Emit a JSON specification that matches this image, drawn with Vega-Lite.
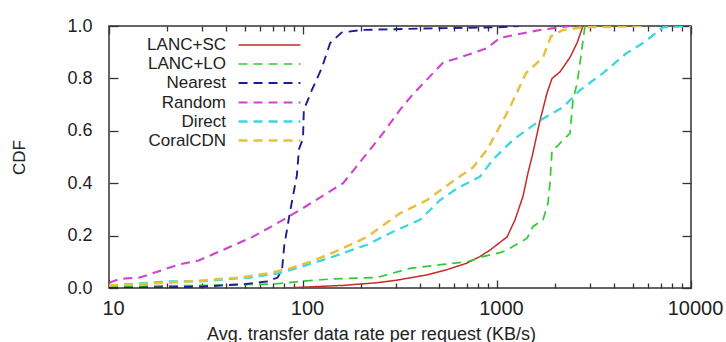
{
  "$schema": "https://vega.github.io/schema/vega-lite/v6.json",
  "width": 582,
  "height": 262,
  "autosize": "none",
  "padding": {"left": 109, "top": 26, "right": 35, "bottom": 54},
  "background": "white",
  "data": {"values": [
    {"s": "LANC+SC", "x": 80, "y": 0.0},
    {"s": "LANC+SC", "x": 161, "y": 0.01},
    {"s": "LANC+SC", "x": 240, "y": 0.02},
    {"s": "LANC+SC", "x": 305, "y": 0.03},
    {"s": "LANC+SC", "x": 435, "y": 0.05},
    {"s": "LANC+SC", "x": 552, "y": 0.07},
    {"s": "LANC+SC", "x": 700, "y": 0.095},
    {"s": "LANC+SC", "x": 817, "y": 0.12},
    {"s": "LANC+SC", "x": 921, "y": 0.145},
    {"s": "LANC+SC", "x": 1127, "y": 0.195},
    {"s": "LANC+SC", "x": 1238, "y": 0.26},
    {"s": "LANC+SC", "x": 1362, "y": 0.35},
    {"s": "LANC+SC", "x": 1445, "y": 0.44},
    {"s": "LANC+SC", "x": 1515, "y": 0.5},
    {"s": "LANC+SC", "x": 1667, "y": 0.64},
    {"s": "LANC+SC", "x": 1812, "y": 0.745},
    {"s": "LANC+SC", "x": 1922, "y": 0.8},
    {"s": "LANC+SC", "x": 2113, "y": 0.825},
    {"s": "LANC+SC", "x": 2378, "y": 0.88},
    {"s": "LANC+SC", "x": 2585, "y": 0.935},
    {"s": "LANC+SC", "x": 2775, "y": 1.0},

    {"s": "LANC+LO", "x": 10, "y": 0.005},
    {"s": "LANC+LO", "x": 30, "y": 0.01},
    {"s": "LANC+LO", "x": 70, "y": 0.015},
    {"s": "LANC+LO", "x": 97, "y": 0.025},
    {"s": "LANC+LO", "x": 143, "y": 0.035},
    {"s": "LANC+LO", "x": 240, "y": 0.04},
    {"s": "LANC+LO", "x": 356, "y": 0.075},
    {"s": "LANC+LO", "x": 527, "y": 0.09},
    {"s": "LANC+LO", "x": 700, "y": 0.1},
    {"s": "LANC+LO", "x": 847, "y": 0.12},
    {"s": "LANC+LO", "x": 1036, "y": 0.135},
    {"s": "LANC+LO", "x": 1127, "y": 0.145},
    {"s": "LANC+LO", "x": 1429, "y": 0.19},
    {"s": "LANC+LO", "x": 1535, "y": 0.235},
    {"s": "LANC+LO", "x": 1726, "y": 0.26},
    {"s": "LANC+LO", "x": 1833, "y": 0.325},
    {"s": "LANC+LO", "x": 1875, "y": 0.4},
    {"s": "LANC+LO", "x": 1922, "y": 0.527},
    {"s": "LANC+LO", "x": 2037, "y": 0.54},
    {"s": "LANC+LO", "x": 2188, "y": 0.565},
    {"s": "LANC+LO", "x": 2378, "y": 0.59},
    {"s": "LANC+LO", "x": 2466, "y": 0.72},
    {"s": "LANC+LO", "x": 2585, "y": 0.78},
    {"s": "LANC+LO", "x": 2679, "y": 0.86},
    {"s": "LANC+LO", "x": 2775, "y": 0.945},
    {"s": "LANC+LO", "x": 2841, "y": 1.0},

    {"s": "Nearest", "x": 10, "y": 0.0},
    {"s": "Nearest", "x": 30, "y": 0.005},
    {"s": "Nearest", "x": 50, "y": 0.015},
    {"s": "Nearest", "x": 65, "y": 0.025},
    {"s": "Nearest", "x": 74, "y": 0.04},
    {"s": "Nearest", "x": 78, "y": 0.07},
    {"s": "Nearest", "x": 80, "y": 0.16},
    {"s": "Nearest", "x": 85.7, "y": 0.29},
    {"s": "Nearest", "x": 93, "y": 0.43},
    {"s": "Nearest", "x": 95.3, "y": 0.53},
    {"s": "Nearest", "x": 100, "y": 0.57},
    {"s": "Nearest", "x": 101, "y": 0.68},
    {"s": "Nearest", "x": 111, "y": 0.755},
    {"s": "Nearest", "x": 125, "y": 0.84},
    {"s": "Nearest", "x": 138, "y": 0.935},
    {"s": "Nearest", "x": 158, "y": 0.975},
    {"s": "Nearest", "x": 200, "y": 0.985},
    {"s": "Nearest", "x": 400, "y": 0.99},
    {"s": "Nearest", "x": 1000, "y": 0.995},
    {"s": "Nearest", "x": 1300, "y": 1.0},

    {"s": "Random", "x": 10, "y": 0.02},
    {"s": "Random", "x": 11.4, "y": 0.035},
    {"s": "Random", "x": 14.4, "y": 0.04},
    {"s": "Random", "x": 23, "y": 0.09},
    {"s": "Random", "x": 29, "y": 0.105},
    {"s": "Random", "x": 40, "y": 0.15},
    {"s": "Random", "x": 55, "y": 0.195},
    {"s": "Random", "x": 79, "y": 0.26},
    {"s": "Random", "x": 100, "y": 0.305},
    {"s": "Random", "x": 161, "y": 0.4},
    {"s": "Random", "x": 221, "y": 0.527},
    {"s": "Random", "x": 258, "y": 0.59},
    {"s": "Random", "x": 316, "y": 0.68},
    {"s": "Random", "x": 369, "y": 0.74},
    {"s": "Random", "x": 468, "y": 0.82},
    {"s": "Random", "x": 527, "y": 0.86},
    {"s": "Random", "x": 644, "y": 0.88},
    {"s": "Random", "x": 887, "y": 0.915},
    {"s": "Random", "x": 1036, "y": 0.955},
    {"s": "Random", "x": 1667, "y": 0.985},
    {"s": "Random", "x": 2400, "y": 1.0},

    {"s": "Direct", "x": 10, "y": 0.01},
    {"s": "Direct", "x": 20.6, "y": 0.025},
    {"s": "Direct", "x": 29, "y": 0.025},
    {"s": "Direct", "x": 53, "y": 0.04},
    {"s": "Direct", "x": 73.5, "y": 0.055},
    {"s": "Direct", "x": 97, "y": 0.08},
    {"s": "Direct", "x": 143, "y": 0.12},
    {"s": "Direct", "x": 214, "y": 0.165},
    {"s": "Direct", "x": 291, "y": 0.215},
    {"s": "Direct", "x": 401, "y": 0.26},
    {"s": "Direct", "x": 508, "y": 0.335},
    {"s": "Direct", "x": 622, "y": 0.38},
    {"s": "Direct", "x": 817, "y": 0.425},
    {"s": "Direct", "x": 953, "y": 0.49},
    {"s": "Direct", "x": 1208, "y": 0.565},
    {"s": "Direct", "x": 1667, "y": 0.64},
    {"s": "Direct", "x": 2188, "y": 0.69},
    {"s": "Direct", "x": 2679, "y": 0.755},
    {"s": "Direct", "x": 3518, "y": 0.82},
    {"s": "Direct", "x": 4624, "y": 0.895},
    {"s": "Direct", "x": 5659, "y": 0.935},
    {"s": "Direct", "x": 7178, "y": 0.995},
    {"s": "Direct", "x": 10000, "y": 1.0},

    {"s": "CoralCDN", "x": 10, "y": 0.01},
    {"s": "CoralCDN", "x": 20, "y": 0.02},
    {"s": "CoralCDN", "x": 32, "y": 0.03},
    {"s": "CoralCDN", "x": 47, "y": 0.04},
    {"s": "CoralCDN", "x": 65, "y": 0.055},
    {"s": "CoralCDN", "x": 86, "y": 0.075},
    {"s": "CoralCDN", "x": 109, "y": 0.1},
    {"s": "CoralCDN", "x": 143, "y": 0.135},
    {"s": "CoralCDN", "x": 214, "y": 0.195},
    {"s": "CoralCDN", "x": 316, "y": 0.285},
    {"s": "CoralCDN", "x": 435, "y": 0.335},
    {"s": "CoralCDN", "x": 573, "y": 0.4},
    {"s": "CoralCDN", "x": 751, "y": 0.46},
    {"s": "CoralCDN", "x": 887, "y": 0.527},
    {"s": "CoralCDN", "x": 988, "y": 0.59},
    {"s": "CoralCDN", "x": 1167, "y": 0.69},
    {"s": "CoralCDN", "x": 1410, "y": 0.82},
    {"s": "CoralCDN", "x": 1726, "y": 0.88},
    {"s": "CoralCDN", "x": 1896, "y": 0.96},
    {"s": "CoralCDN", "x": 2188, "y": 0.985},
    {"s": "CoralCDN", "x": 2775, "y": 0.995},
    {"s": "CoralCDN", "x": 5860, "y": 1.0}
  ]},
  "layer": [
    {
      "mark": {"type": "line", "clip": true},
      "encoding": {
        "x": {
          "field": "x", "type": "quantitative",
          "scale": {"type": "log", "domain": [10, 10000], "nice": false},
          "axis": {
            "orient": "bottom",
            "title": "Avg. transfer data rate per request (KB/s)",
            "values": [10, 100, 1000, 10000],
            "format": "d",
            "tickSize": -8,
            "labelPadding": 18,
            "labelFlush": false,
            "labelOffset": 4,
            "labelFontSize": 20,
            "titleFontSize": 18,
            "titlePadding": 7,
            "titleX": 262
          }
        },
        "y": {
          "field": "y", "type": "quantitative",
          "scale": {"domain": [0, 1], "nice": false},
          "axis": {
            "orient": "left",
            "title": "CDF",
            "values": [0, 0.2, 0.4, 0.6, 0.8, 1.0],
            "format": ".1f",
            "tickSize": -9,
            "labelPadding": 26,
            "labelFontSize": 18,
            "titleFontSize": 17,
            "titlePadding": 38
          }
        },
        "color": {
          "field": "s", "type": "nominal",
          "scale": {
            "domain": ["LANC+SC", "LANC+LO", "Nearest", "Random", "Direct", "CoralCDN"],
            "range": ["#c42a2a", "#2fcc2f", "#1c1c96", "#d043d0", "#3ad8dc", "#e8c040"]
          },
          "legend": {"title": null}
        },
        "strokeDash": {
          "field": "s", "type": "nominal",
          "scale": {
            "domain": ["LANC+SC", "LANC+LO", "Nearest", "Random", "Direct", "CoralCDN"],
            "range": [[1, 0], [9, 6], [9, 6], [9, 6], [9, 6], [9, 6]]
          },
          "legend": {"title": null}
        },
        "strokeWidth": {
          "field": "s", "type": "nominal",
          "scale": {
            "domain": ["LANC+SC", "LANC+LO", "Nearest", "Random", "Direct", "CoralCDN"],
            "range": [1.5, 2.5, 2.5, 2.5, 2.5, 2.5]
          },
          "legend": {"title": null}
        }
      }
    },
    {
      "mark": {"type": "point", "opacity": 0},
      "encoding": {
        "x": {
          "field": "x", "type": "quantitative",
          "axis": {
            "orient": "bottom",
            "title": null,
            "labels": false,
            "values": [20, 30, 40, 50, 60, 70, 80, 90, 200, 300, 400, 500, 600, 700, 800, 900, 2000, 3000, 4000, 5000, 6000, 7000, 8000, 9000],
            "tickSize": -5
          }
        },
        "y": {
          "field": "y", "type": "quantitative",
          "axis": {
            "orient": "right",
            "title": null,
            "labels": false,
            "values": [0, 0.2, 0.4, 0.6, 0.8, 1.0],
            "tickSize": -9
          }
        }
      }
    },
    {
      "mark": {"type": "point", "opacity": 0},
      "encoding": {
        "x": {
          "field": "x", "type": "quantitative",
          "axis": {
            "orient": "top",
            "title": null,
            "labels": false,
            "values": [10, 100, 1000, 10000],
            "tickSize": -8
          }
        },
        "y": {"field": "y", "type": "quantitative", "axis": null}
      }
    },
    {
      "mark": {"type": "point", "opacity": 0},
      "encoding": {
        "x": {
          "field": "x", "type": "quantitative",
          "axis": {
            "orient": "top",
            "title": null,
            "labels": false,
            "values": [20, 30, 40, 50, 60, 70, 80, 90, 200, 300, 400, 500, 600, 700, 800, 900, 2000, 3000, 4000, 5000, 6000, 7000, 8000, 9000],
            "tickSize": -5
          }
        },
        "y": {"field": "y", "type": "quantitative", "axis": null}
      }
    }
  ],
  "resolve": {"axis": {"x": "independent", "y": "independent"}},
  "config": {
    "font": "Liberation Sans",
    "view": {"stroke": "#333333", "strokeWidth": 1.5},
    "axis": {
      "domain": false,
      "grid": false,
      "tickColor": "#333333",
      "tickWidth": 1.3,
      "labelColor": "#222222",
      "titleColor": "#222222",
      "titleFontWeight": "normal",
      "labelFont": "Liberation Sans",
      "titleFont": "Liberation Sans"
    },
    "legend": {
      "orient": "none",
      "legendX": 149.5,
      "legendY": 8.5,
      "symbolType": "M-3.26,0H3.26",
      "symbolSize": 361,
      "rowPadding": 0,
      "labelAlign": "right",
      "labelOffset": -54.5,
      "labelFontSize": 17,
      "labelFont": "Liberation Sans",
      "labelColor": "#222222",
      "labelLimit": 300
    }
  }
}
